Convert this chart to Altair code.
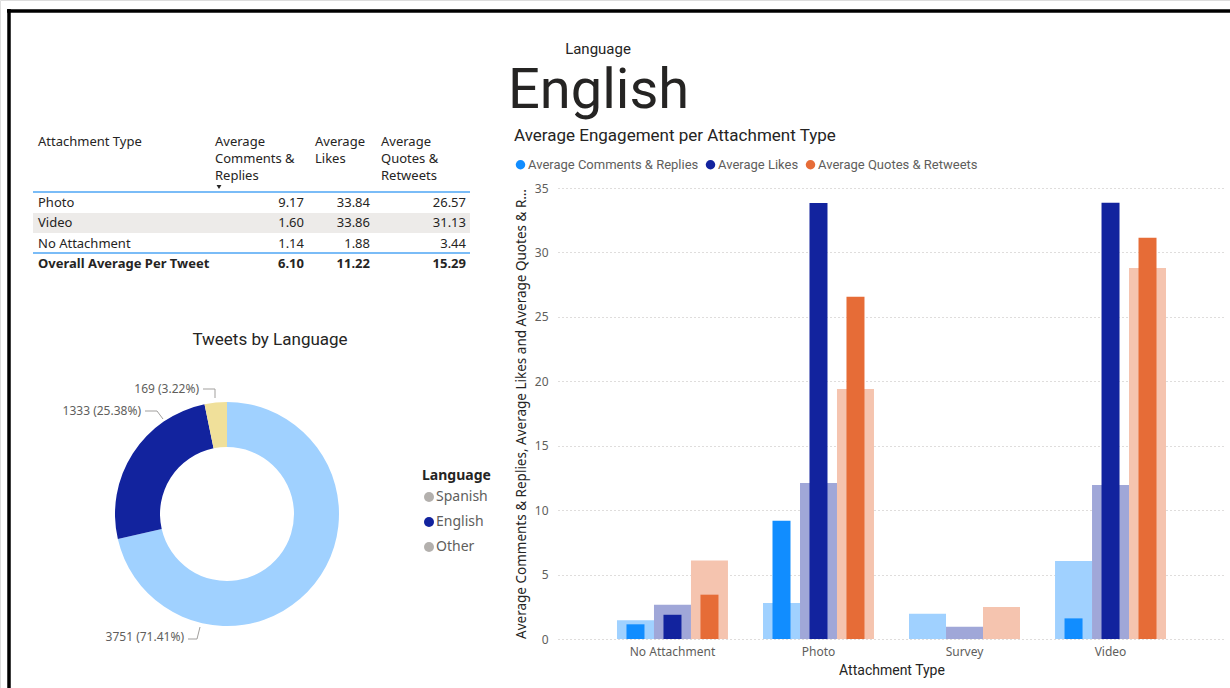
import altair as alt
import pandas as pd

# ---------------- data ----------------
attachment_types = ["No Attachment", "Photo", "Survey", "Video"]
measures = ["Average Comments & Replies", "Average Likes", "Average Quotes & Retweets"]

# all-language averages (faded bars)
all_comments = [1.45, 2.80, 1.95, 6.05]
all_likes = [2.65, 12.10, 0.95, 11.95]
all_quotes = [6.10, 19.40, 2.48, 28.80]
# English (highlighted bars)
eng_comments = [1.14, 9.17, None, 1.60]
eng_likes = [1.88, 33.84, None, 33.86]
eng_quotes = [3.44, 26.57, None, 31.13]

table_rows = ["Photo", "Video", "No Attachment"]
table_comments = [9.17, 1.60, 1.14]
table_likes = [33.84, 33.86, 1.88]
table_quotes = [26.57, 31.13, 3.44]
total_label = "Overall Average Per Tweet"
total_values = [6.10, 11.22, 15.29]
table_headers = ["Attachment Type", "Average\nComments &\nReplies", "Average\nLikes", "Average\nQuotes &\nRetweets"]

languages = ["Spanish", "English", "Other"]
tweet_counts = [3751, 1333, 169]
selected_language = "English"

# ---------------- styles ----------------
UI = "Noto Sans"
DIN = "Roboto"
DARK = "#252423"
GRAY = "#605E5C"
DARK_COLORS = ["#118DFF", "#12239E", "#E66C37"]
LIGHT_COLORS = ["#A0D1FF", "#A0A7D8", "#F5C4AF"]
LANG_COLORS = ["#A0D1FF", "#12239E", "#F0E09A"]
LANG_LEGEND = ["#B3B0AD", "#12239E", "#B3B0AD"]

# ---------------- frames ----------------
bar_rows = []
for i, t in enumerate(attachment_types):
    for m, a, e in zip(measures, [all_comments, all_likes, all_quotes], [eng_comments, eng_likes, eng_quotes]):
        bar_rows.append({"type": t, "measure": m, "all": a[i], "eng": e[i]})
bars_df = pd.DataFrame(bar_rows)

table_df = pd.DataFrame({"type": table_rows, "c": table_comments, "l": table_likes, "q": table_quotes})
total_df = pd.DataFrame({"type": [total_label], "c": [total_values[0]], "l": [total_values[1]], "q": [total_values[2]]})

total_tweets = sum(tweet_counts)
lang_df = pd.DataFrame({
    "Language": languages,
    "Count": tweet_counts,
    "idx": list(range(len(languages))),
    "label": [f"{c} ({c / total_tweets * 100:.2f}%)" for c in tweet_counts],
})
one = pd.DataFrame({"k": [0]})

layers = []

# ---------------- frame border ----------------
layers.append(alt.Chart(one).mark_rule(color="black", strokeWidth=3.5).encode(
    x=alt.value(7), x2=alt.value(1230), y=alt.value(11)))
layers.append(alt.Chart(one).mark_rule(color="black", strokeWidth=3.5).encode(
    x=alt.value(9), y=alt.value(9), y2=alt.value(688)))

# ---------------- card ----------------
layers.append(alt.Chart(one).mark_text(text="Language", font=DIN, fontSize=15, color=DARK, align="center").encode(
    x=alt.value(598), y=alt.value(49)))
layers.append(alt.Chart(one).mark_text(text=selected_language, font=DIN, fontSize=56, color=DARK,
                                       align="left", baseline="alphabetic").encode(
    x=alt.value(508), y=alt.value(108)))

# ---------------- table ----------------
layers.append(alt.Chart(one).mark_rect(color="#EDEBE9").encode(
    x=alt.value(33), x2=alt.value(470), y=alt.value(213), y2=alt.value(233)))
for ypos in [192, 253]:
    layers.append(alt.Chart(one).mark_rule(color="#4EA6F5", strokeWidth=1.5).encode(
        x=alt.value(33), x2=alt.value(470), y=alt.value(ypos)))
header_x = [38, 215, 315, 381]
for h, hx in zip(table_headers, header_x):
    layers.append(alt.Chart(one).mark_text(text=h, lineBreak="\n", font=UI, fontSize=13, color=DARK,
                                           align="left", baseline="top", lineHeight=17).encode(
        x=alt.value(hx), y=alt.value(136)))
layers.append(alt.Chart(one).mark_point(shape="triangle-down", filled=True, size=24, color=DARK, opacity=1).encode(
    x=alt.value(219), y=alt.value(187)))

row_domain = table_rows + [total_label]
def yrow():
    return alt.Y("type:N", scale=alt.Scale(type="point", domain=row_domain, range=[203, 264], padding=0), axis=None)

for df, weight in [(table_df, "normal"), (total_df, "bold")]:
    layers.append(alt.Chart(df).mark_text(font=UI, fontSize=13, color=DARK, align="left", fontWeight=weight).encode(
        x=alt.value(38), y=yrow(), text="type:N"))
    for col, rx in zip(["c", "l", "q"], [304, 370, 466]):
        layers.append(alt.Chart(df).mark_text(font=UI, fontSize=13, color=DARK, align="right", fontWeight=weight).encode(
            x=alt.value(rx), y=yrow(), text=alt.Text(f"{col}:Q", format=".2f")))

# ---------------- donut ----------------
layers.append(alt.Chart(one).mark_text(text="Tweets by Language", font=DIN, fontSize=17, color=DARK, align="center").encode(
    x=alt.value(270), y=alt.value(340)))
layers.append(alt.Chart(lang_df).mark_arc(innerRadius=67, outerRadius=112).encode(
    x=alt.value(227), y=alt.value(514),
    theta=alt.Theta("Count:Q", stack=True),
    order=alt.Order("idx:Q"),
    color=alt.Color("Language:N", scale=alt.Scale(domain=languages, range=LANG_COLORS), legend=None),
))
layers.append(alt.Chart(lang_df).mark_circle(opacity=1).encode(
    x=alt.value(-200), y=alt.value(-200),
    color=alt.Color("Language:N", scale=alt.Scale(domain=languages, range=LANG_LEGEND),
                    legend=alt.Legend(orient="none", legendX=422, legendY=469, title="Language",
                                      titleFont=UI, titleFontSize=14, titleFontWeight="bold", titleColor=DARK,
                                      labelFont=UI, labelFontSize=14, labelColor=GRAY,
                                      symbolType="circle", symbolSize=100, symbolStrokeWidth=0,
                                      rowPadding=11, labelOffset=0, titlePadding=7)),
))
# donut labels (anchor positions follow the report's label layout)
label_anchor = {"Spanish": (184, 637), "English": (141, 411), "Other": (199, 389)}
for lang in languages:
    ax, ay = label_anchor[lang]
    layers.append(alt.Chart(lang_df).transform_filter(alt.datum.Language == lang).mark_text(
        font=UI, fontSize=12, color=GRAY, align="right").encode(
        x=alt.value(ax), y=alt.value(ay), text="label:N"))
leader_segments = [
    (203, 389, 215, 389), (215, 389, 215, 398),
    (145, 411, 157, 411), (157, 411, 163, 419),
    (188, 639, 197, 639), (197, 639, 200, 627),
]
for x1, y1, x2, y2 in leader_segments:
    layers.append(alt.Chart(one).mark_rule(color="#A19F9D", strokeWidth=1).encode(
        x=alt.value(x1), y=alt.value(y1), x2=alt.value(x2), y2=alt.value(y2)))

# ---------------- bar chart ----------------
layers.append(alt.Chart(one).mark_text(text="Average Engagement per Attachment Type", font=DIN, fontSize=17,
                                       color=DARK, align="left").encode(x=alt.value(514), y=alt.value(136)))

x_scale = alt.Scale(domain=attachment_types, range=[558, 1225], paddingInner=0.24, paddingOuter=0.404)
y_scale = alt.Scale(domain=[0, 35], range=[639, 188], nice=False)
xo = alt.XOffset("measure:N", sort=measures, scale=alt.Scale(domain=measures, paddingInner=0, paddingOuter=0))

wide = alt.Chart(bars_df).mark_bar().encode(
    x=alt.X("type:N", sort=attachment_types, scale=x_scale, title="Attachment Type",
            axis=alt.Axis(orient="bottom", offset=-49, domain=False, ticks=False, grid=False, labelAngle=0,
                          labelFont=UI, labelFontSize=12, labelColor=GRAY, labelPadding=7,
                          titleFont=DIN, titleFontSize=14, titleFontWeight="normal", titleColor=DARK, titlePadding=6)),
    xOffset=xo,
    y=alt.Y("all:Q", scale=y_scale,
            title="Average Comments & Replies, Average Likes and Average Quotes & Retweets",
            axis=alt.Axis(orient="left", offset=-558, domain=False, ticks=False, values=[0, 5, 10, 15, 20, 25, 30, 35],
                          labelFont=UI, labelFontSize=12, labelColor=GRAY, labelPadding=10,
                          grid=True, gridColor="#BEBBB8", gridDash=[1, 3], gridWidth=1,
                          titleFont=UI, titleFontSize=13.5, titleFontWeight="normal", titleColor=DARK,
                          titlePadding=6, titleLimit=452)),
    color=alt.Color("measure:N", scale=alt.Scale(domain=measures, range=LIGHT_COLORS), legend=None),
)
narrow = alt.Chart(bars_df).mark_bar(width=18).encode(
    x=alt.X("type:N", sort=attachment_types, scale=x_scale, axis=None),
    xOffset=xo,
    y=alt.Y("eng:Q", scale=y_scale, axis=None),
    color=alt.Color("measure:N", scale=alt.Scale(domain=measures, range=DARK_COLORS),
                    legend=alt.Legend(orient="none", legendX=514, legendY=158, direction="horizontal", title=None,
                                      symbolType="circle", symbolSize=90, symbolStrokeWidth=0,
                                      labelFont=DIN, labelFontSize=13, labelColor=GRAY, labelOffset=1,
                                      labelLimit=400, columnPadding=5)),
)
layers += [wide, narrow]

chart = alt.layer(*layers).resolve_scale(
    x="independent", y="independent", color="independent"
).resolve_legend(color="independent").properties(
    width=1230, height=688, padding=0, autosize=alt.AutoSizeParams(type="none")
).configure_view(stroke=None).configure(background="white")

chart.save("out.html", embed_options={"renderer": "svg", "actions": False})
